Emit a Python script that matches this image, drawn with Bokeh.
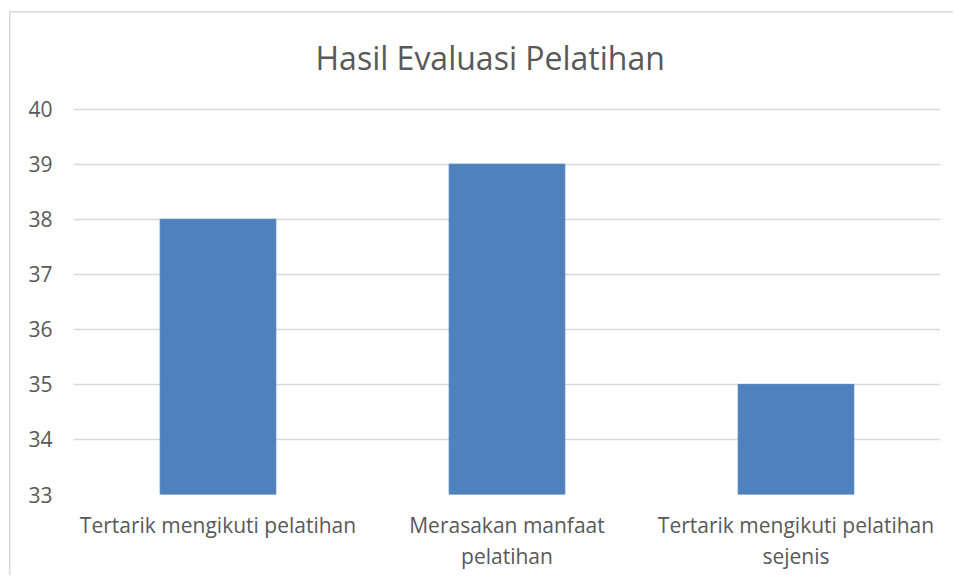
from bokeh.plotting import figure
from bokeh.models import Range1d, FixedTicker, Title
from bokeh.embed import file_html
from bokeh.resources import INLINE

categories = ["Tertarik mengikuti pelatihan", "Merasakan manfaat\npelatihan", "Tertarik mengikuti pelatihan\nsejenis"]
values = [38, 39, 35]
y_ticks = [33, 34, 35, 36, 37, 38, 39, 40]

FONT = "Open Sans"
GRAY = "#595959"
EDGE = "#d9d9d9"

p = figure(x_range=categories, frame_width=867, frame_height=387, output_backend="svg",
           toolbar_location=None, min_border_left=64, min_border_right=13,
           min_border_top=90, min_border_bottom=81)
p.margin = (5, 0, 0, 9)
p.border_fill_color = None
p.background_fill_color = "white"
p.styles = {
    "background-image": f"linear-gradient({EDGE},{EDGE}), linear-gradient({EDGE},{EDGE})",
    "background-size": "100% 1.5px, 1.5px 100%",
    "background-position": "0 6px, 0 6px",
    "background-repeat": "no-repeat",
}
p.y_range = Range1d(33, 40.03)

p.vbar(x=categories, top=values, bottom=33, width=0.4, color="#4F81BD")

t = Title(text="Hasil Evaluasi Pelatihan", align="left", offset=242,
          text_font=FONT, text_font_size="32px", text_color=GRAY,
          text_font_style="normal", standoff=57)
p.add_layout(t, "above")
p.title.visible = False

p.yaxis.ticker = FixedTicker(ticks=y_ticks)
p.outline_line_color = None
p.xgrid.grid_line_color = None
p.ygrid.grid_line_color = EDGE
p.ygrid.grid_line_width = 1.5
for ax in (p.xaxis, p.yaxis):
    ax.axis_line_color = None
    ax.major_tick_line_color = None
    ax.minor_tick_line_color = None
    ax.major_label_text_font = FONT
    ax.major_label_text_font_size = "21px"
    ax.major_label_text_color = GRAY
p.yaxis.major_label_standoff = 15
p.xaxis.major_label_standoff = 10
p.xaxis.major_label_text_line_height = 1.12

open("out.html", "w").write(file_html(p, INLINE))
